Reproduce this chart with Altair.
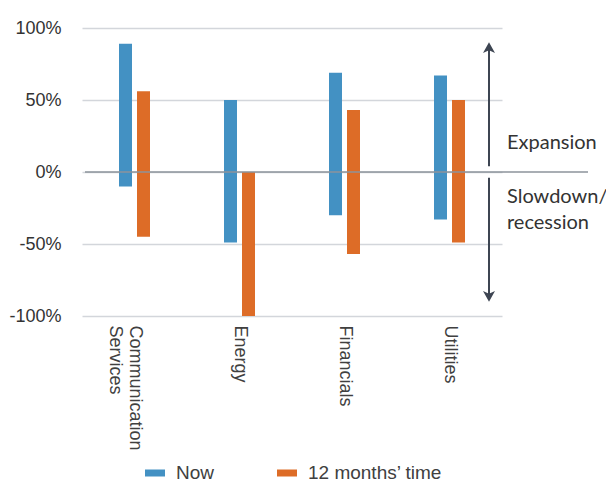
import altair as alt
import pandas as pd

categories = ["Communication Services", "Energy", "Financials", "Utilities"]
series = ["Now", "12 months\u2019 time"]
now_low = [-10, -49, -30, -33]
now_high = [89, 50, 69, 67]
future_low = [-45, -100, -57, -49]
future_high = [56, 0, 43, 50]
y_ticks = [-100, -50, 0, 50, 100]

colors = ["#4391C3", "#DD6C27"]

rows = []
for i, c in enumerate(categories):
    rows.append({"cat": c, "series": series[0], "low": now_low[i], "high": now_high[i]})
    rows.append({"cat": c, "series": series[1], "low": future_low[i], "high": future_high[i]})
df = pd.DataFrame(rows)

# annotation content
arrow_up = [86, 4]
arrow_down = [-4, -86]
ann_text = ["Expansion", "Slowdown/", "recession"]
ann_y = [20, -17.5, -35.5]
ann_df = pd.DataFrame({"text": ann_text, "y": ann_y})

FONT_LBL = "Liberation Sans"
FONT_ANN = "Lato"

x_enc = alt.X("cat:N", sort=categories,
              scale=alt.Scale(domain=categories, range=[-3, 417], paddingInner=0, paddingOuter=0),
              axis=alt.Axis(title=None, labelAngle=90, labelFontSize=18, labelFont=FONT_LBL,
                            labelColor="#404040", labelPadding=9, ticks=False, tickSize=0,
                            domain=False, grid=False, labelLimit=300, labelLineHeight=20,
                            labelExpr="datum.value == 'Communication Services' ? ['Communication', 'Services'] : datum.value"))
y_enc = alt.Y("low:Q", scale=alt.Scale(domain=[-100, 100], nice=False),
              axis=alt.Axis(title=None, values=y_ticks, labelExpr="datum.value + '%'",
                            labelFontSize=18, labelFont=FONT_LBL, labelColor="#333333",
                            labelPadding=24, ticks=False, tickSize=0, domain=False,
                            grid=True, gridColor="#D3D6DB", gridWidth=1.5))
color_enc = alt.Color("series:N", scale=alt.Scale(domain=series, range=colors),
                      legend=alt.Legend(title=None, orient="none", direction="horizontal",
                                        legendX=60, legendY=435,
                                        symbolType="M-1,-0.35L1,-0.35L1,0.35L-1,0.35Z",
                                        symbolSize=400, symbolStrokeWidth=0,
                                        labelFontSize=19, labelFont=FONT_LBL, labelColor="#404040",
                                        labelOffset=11, columnPadding=62))

bars_now = alt.Chart(df).transform_filter(alt.datum.series == series[0]).mark_bar(
    width=13, xOffset=-9).encode(x=x_enc, y=y_enc, y2="high:Q", color=color_enc)
bars_fut = alt.Chart(df).transform_filter(alt.datum.series == series[1]).mark_bar(
    width=13, xOffset=9).encode(x=x_enc, y=y_enc, y2="high:Q", color=color_enc)

zero = alt.Chart(pd.DataFrame({"v": [0]})).mark_rule(color="#8C939B", strokeWidth=1.5).encode(
    y=alt.Y("v:Q"))

AX = 404
ARROW_COLOR = "#3D4552"
arr_df = pd.DataFrame({"a": [arrow_up[0], arrow_down[0]], "b": [arrow_up[1], arrow_down[1]]})
arrow_lines = alt.Chart(arr_df).mark_rule(color=ARROW_COLOR, strokeWidth=2).encode(
    x=alt.value(AX), y=alt.Y("a:Q"), y2="b:Q")
head_up = alt.Chart(pd.DataFrame({"v": [arrow_up[0]]})).mark_point(
    shape="M0,-1L1,0.8L0,0.35L-1,0.8Z", size=144, filled=True, color=ARROW_COLOR, opacity=1).encode(
    x=alt.value(AX), y=alt.Y("v:Q"))
head_down = alt.Chart(pd.DataFrame({"v": [arrow_down[1]]})).mark_point(
    shape="M0,1L1,-0.8L0,-0.35L-1,-0.8Z", size=144, filled=True, color=ARROW_COLOR, opacity=1).encode(
    x=alt.value(AX), y=alt.Y("v:Q"))
ann = alt.Chart(ann_df).mark_text(align="left", baseline="middle", font=FONT_ANN, fontSize=20,
                                  color="#333333").encode(
    x=alt.value(AX + 18), y=alt.Y("y:Q"), text="text:N")

chart = alt.layer(bars_now, bars_fut, zero, arrow_lines, head_up, head_down, ann).properties(
    width=503, height=288,
    autosize=alt.AutoSizeParams(type="none"),
    padding={"left": 77, "top": 20, "right": 18, "bottom": 169},
).configure_view(stroke=None).resolve_scale(y="shared")

chart.save("out.html", embed_options={"renderer": "svg", "actions": False})
